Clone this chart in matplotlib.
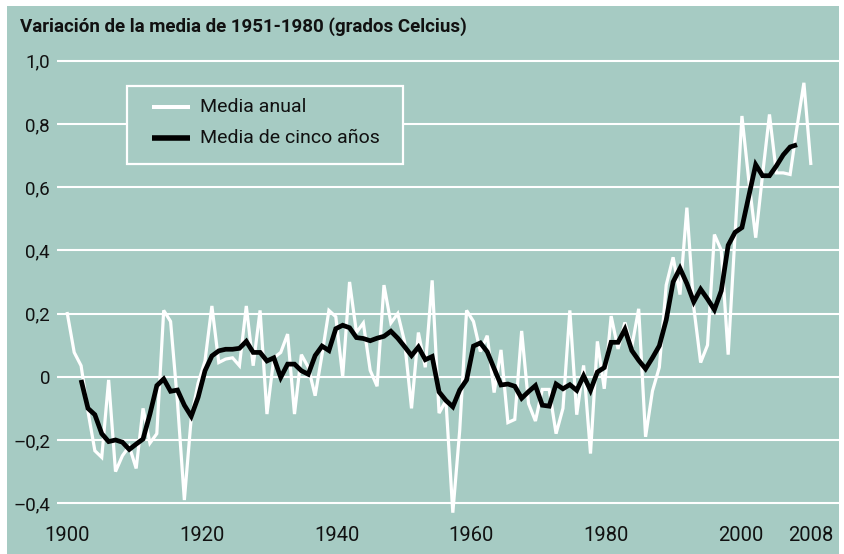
import matplotlib
matplotlib.use("Agg")
import matplotlib.pyplot as plt
from matplotlib.patches import Rectangle
from matplotlib.lines import Line2D

# ---------------- data ----------------
years_annual = list(range(1900, 2009))
annual_mean = [
    0.20, 0.077, 0.035, -0.11, -0.234, -0.255, -0.01, -0.30, -0.25, -0.22,   # 1900-1909
    -0.29, -0.10, -0.21, -0.18, 0.21, 0.175, -0.08, -0.39, -0.13, -0.02,     # 1910-1919
    0.05, 0.224, 0.045, 0.056, 0.06, 0.035, 0.224, 0.035, 0.21, -0.118,      # 1920-1929
    0.06, 0.077, 0.135, -0.118, 0.07, 0.03, -0.06, 0.07, 0.21, 0.19,         # 1930-1939
    0.0, 0.30, 0.14, 0.17, 0.02, -0.03, 0.29, 0.17, 0.20, 0.11,              # 1940-1949
    -0.10, 0.14, 0.03, 0.305, -0.115, -0.075, -0.43, -0.17, 0.21, 0.175,     # 1950-1959
    0.08, 0.13, -0.05, 0.085, -0.145, -0.135, 0.145, -0.085, -0.14, -0.04,   # 1960-1969
    -0.04, -0.18, -0.10, 0.21, -0.12, 0.036, -0.243, 0.112, -0.038, 0.192,   # 1970-1979
    0.088, 0.172, 0.095, 0.215, -0.19, -0.045, 0.03, 0.29, 0.378, 0.26,      # 1980-1989
    0.535, 0.22, 0.045, 0.10, 0.45, 0.40, 0.07, 0.45, 0.825, 0.62,           # 1990-1999
    0.44, 0.64, 0.83, 0.645, 0.645, 0.64, 0.79, 0.93, 0.675,                 # 2000-2008
]

years_5yr = list(range(1902, 2007))
five_year_mean = [
    -0.01, -0.10, -0.12, -0.18, -0.205, -0.20, -0.207, -0.23,                # 1902-1909
    -0.213, -0.197, -0.118, -0.028, -0.007, -0.046, -0.042, -0.09, -0.125, -0.065,  # 1910-1919
    0.019, 0.066, 0.082, 0.087, 0.087, 0.09, 0.112, 0.077, 0.077, 0.05,     # 1920-1929
    0.06, -0.002, 0.04, 0.04, 0.019, 0.008, 0.067, 0.097, 0.083, 0.152,     # 1930-1939
    0.163, 0.155, 0.124, 0.121, 0.114, 0.122, 0.128, 0.144, 0.122, 0.095,   # 1940-1949
    0.067, 0.094, 0.054, 0.064, -0.048, -0.075, -0.095, -0.042, -0.01, 0.097,  # 1950-1959
    0.107, 0.079, 0.026, -0.026, -0.023, -0.03, -0.068, -0.047, -0.028, -0.09,  # 1960-1969
    -0.093, -0.023, -0.038, -0.025, -0.043, 0.003, -0.043, 0.015, 0.029, 0.109,  # 1970-1979
    0.109, 0.15, 0.083, 0.052, 0.025, 0.06, 0.098, 0.18, 0.30, 0.343,       # 1980-1989
    0.295, 0.237, 0.277, 0.246, 0.212, 0.272, 0.416, 0.457, 0.472, 0.572,  # 1990-1999
    0.671, 0.636, 0.636, 0.667, 0.702, 0.727, 0.734,                        # 2000-2006
]

title_text = "Variación de la media de 1951-1980 (grados Celcius)"
legend_labels = ["Media anual", "Media de cinco años"]
y_ticks = [-0.4, -0.2, 0.0, 0.2, 0.4, 0.6, 0.8, 1.0]
y_tick_labels = ["\u20130,4", "\u20130,2", "0", "0,2", "0,4", "0,6", "0,8", "1,0"]
x_tick_labels = ["1900", "1920", "1940", "1960", "1980", "2000", "2008"]
x_tick_pos = [1900, 1919.6, 1939.2, 1958.7, 1978.3, 1997.8, 2008]

# ---------------- style ----------------
TEAL = "#a6cbc3"
INK = "#111111"
FONT = ["Roboto", "DejaVu Sans"]
plt.rcParams["font.family"] = FONT

W, H = 844, 554
fig = plt.figure(figsize=(W / 100, H / 100), dpi=100, facecolor="white")

def fx(px):
    return px / W

def fy(py):
    return 1 - py / H

# teal panel
fig.add_artist(Rectangle((fx(7), 0), fx(839) - fx(7), fy(6), transform=fig.transFigure,
                         facecolor=TEAL, edgecolor="none", zorder=-10))

ax = fig.add_axes([fx(57), fy(519), fx(839) - fx(57), fy(51.2) - fy(519)])
ax.patch.set_visible(False)
for s in ax.spines.values():
    s.set_visible(False)
ax.set_xlim(1898.5, 2012.1)
ax.set_ylim(-0.45, 1.03)

ax.set_yticks(y_ticks)
ax.set_yticklabels(y_tick_labels)
ax.set_xticks(x_tick_pos)
ax.set_xticklabels(x_tick_labels)
ax.tick_params(axis="both", length=0, colors=INK)
ax.tick_params(axis="y", pad=5, labelsize=13.5)
ax.tick_params(axis="x", pad=5, labelsize=14.5)
ax.yaxis.grid(True, color="white", linewidth=1.5)
ax.xaxis.grid(False)
ax.set_axisbelow(True)

l1, = ax.plot(years_annual, annual_mean, color="white", linewidth=2.3,
              solid_joinstyle="miter", zorder=3)
l2, = ax.plot(years_5yr, five_year_mean, color="black", linewidth=3.4,
              solid_joinstyle="miter", solid_capstyle="butt", zorder=4)

# title
fig.text(fx(20), fy(27), title_text, fontsize=13.5, fontweight="bold", color=INK,
         ha="left", va="center")

# legend box
fig.add_artist(Rectangle((fx(127), fy(164)), fx(403) - fx(127), fy(86) - fy(164),
                         transform=fig.transFigure, facecolor=TEAL, edgecolor="white",
                         linewidth=1.6, zorder=5))
for yy, src, lab in [(107, l1, legend_labels[0]), (138, l2, legend_labels[1])]:
    fig.add_artist(Line2D([fx(152), fx(190)], [fy(yy), fy(yy)], transform=fig.transFigure,
                          color=src.get_color(), linewidth=src.get_linewidth() + 0.6,
                          solid_capstyle="butt", zorder=6))
    fig.text(fx(200), fy(yy), lab, fontsize=14, color=INK, ha="left", va="center",
             zorder=6)

fig.savefig("out.png", dpi=100, facecolor="white")
